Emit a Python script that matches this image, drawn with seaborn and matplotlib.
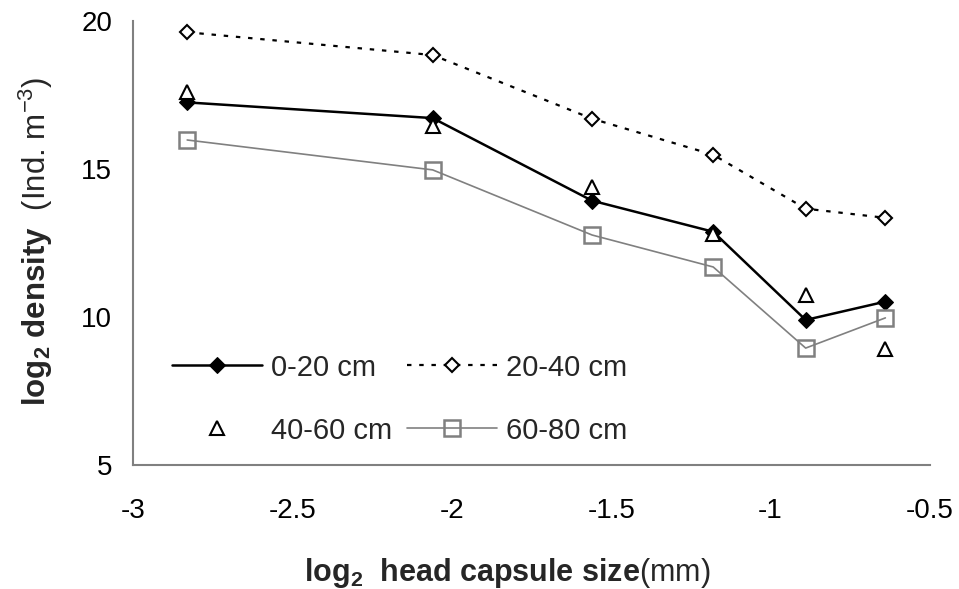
import matplotlib
matplotlib.use("Agg")
import matplotlib.pyplot as plt
import seaborn as sns

# ---- data ----
head_size = [-2.83, -2.06, -1.56, -1.18, -0.89, -0.64]
d_0_20 = [17.25, 16.72, 13.93, 12.88, 9.90, 10.52]
d_20_40 = [19.62, 18.85, 16.70, 15.48, 13.66, 13.35]
d_40_60 = [17.60, 16.45, 14.40, 12.80, 10.74, 8.92]
d_60_80 = [15.98, 14.97, 12.77, 11.69, 8.95, 9.97]
labels = ["0-20 cm", "20-40 cm", "40-60 cm", "60-80 cm"]
x_ticks = [-3, -2.5, -2, -1.5, -1, -0.5]
y_ticks = [5, 10, 15, 20]

sns.set_theme(style="white")
fam = "Liberation Sans"
plt.rcParams["font.family"] = [fam, "DejaVu Sans"]
plt.rcParams["mathtext.fontset"] = "custom"
plt.rcParams["mathtext.rm"] = fam
plt.rcParams["mathtext.bf"] = fam + ":bold"
plt.rcParams["mathtext.it"] = fam + ":italic"

fig = plt.figure(figsize=(9.59, 5.89), dpi=100)
ax = fig.add_axes([133/959, 1-465/589, (930-133)/959, (465-21)/589])

sns.lineplot(x=head_size, y=d_0_20, ax=ax, color="black", lw=1.8, marker="D",
             markersize=8, markerfacecolor="black", markeredgecolor="black",
             label=labels[0])
sns.lineplot(x=head_size, y=d_20_40, ax=ax, color="black", lw=1.6,
             linestyle=(0, (2, 3.5)), marker="D", markersize=7,
             markerfacecolor="white", markeredgecolor="black", markeredgewidth=1.5,
             label=labels[1])
sns.lineplot(x=head_size, y=d_40_60, ax=ax, color="black", linestyle="None",
             marker="^", markersize=10, markerfacecolor="white",
             markeredgecolor="black", markeredgewidth=1.5, label=labels[2])
sns.lineplot(x=head_size, y=d_60_80, ax=ax, color="#808080", lw=1.2, marker="s",
             markersize=11, markerfacecolor="none", markeredgecolor="#808080",
             markeredgewidth=1.8, label=labels[3])

ax.set_xlim(-3, -0.5)
ax.set_ylim(5, 20)
ax.set_xticks(x_ticks)
ax.set_xticklabels([f"{t:g}" for t in x_ticks])
ax.set_yticks(y_ticks)
ax.set_yticklabels([str(t) for t in y_ticks])
for s in ["top", "right"]:
    ax.spines[s].set_visible(False)
for s in ["left", "bottom"]:
    ax.spines[s].set_color("#808080")
    ax.spines[s].set_linewidth(1.5)
ax.tick_params(axis="both", direction="out", length=7, width=1.3, color="#808080",
               labelsize=20, labelcolor="black")
ax.tick_params(axis="x", pad=17)
ax.tick_params(axis="y", pad=8)

ax.set_xlabel(r"$\mathbf{log_2\ \ head\ capsule\ size}$(mm)", fontsize=22)
ax.xaxis.set_label_coords(0.47, -0.205)
ax.set_ylabel(r"$\mathbf{log_2\ density}$  (Ind. m$^{-3}$)", fontsize=22.5)
ax.yaxis.set_label_coords(-0.098, 0.505)

h, l = ax.get_legend_handles_labels()
order = [0, 2, 1, 3]
ax.legend([h[i] for i in order], [l[i] for i in order], ncol=2, frameon=False,
          fontsize=21, loc="upper left", bbox_to_anchor=(0.049, 0.251),
          borderaxespad=0, borderpad=0,
          handlelength=3.1, columnspacing=0.5, labelspacing=1.2, handletextpad=0.3)

fig.savefig("out.png", dpi=100)
